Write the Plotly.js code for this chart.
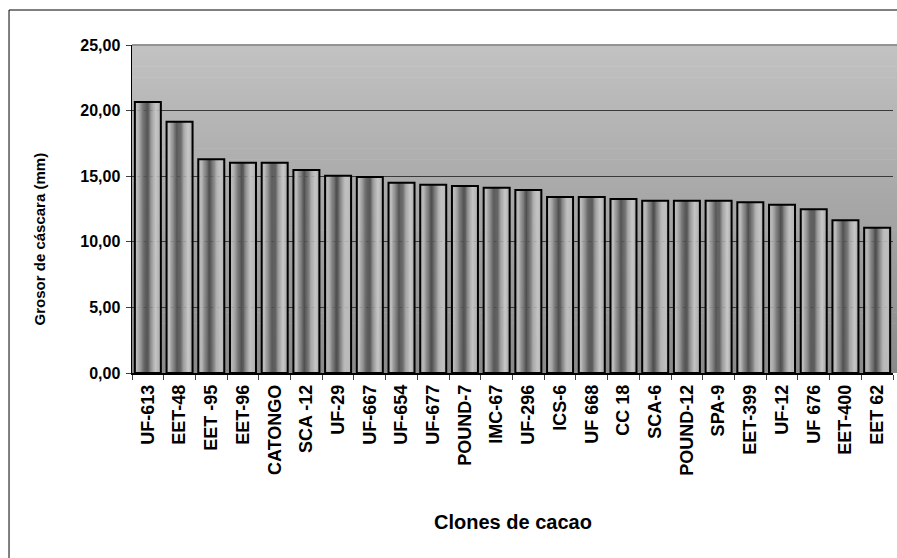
<!DOCTYPE html>
<html>
<head>
<meta charset="utf-8">
<script src="https://cdn.plot.ly/plotly-3.0.1.min.js"></script>
<style>
html,body{margin:0;padding:0;background:#fff;}
#chart{width:897px;height:558px;}
</style>
</head>
<body>
<div id="chart"></div>
<script>
// ---- data ----
const clones = ["UF-613","EET-48","EET -95","EET-96","CATONGO","SCA -12","UF-29","UF-667","UF-654","UF-677","POUND-7","IMC-67","UF-296","ICS-6","UF 668","CC 18","SCA-6","POUND-12","SPA-9","EET-399","UF-12","UF 676","EET-400","EET 62"];
const grosor = [20.66,19.15,16.29,16.03,16.03,15.47,15.04,14.94,14.50,14.35,14.25,14.12,13.95,13.41,13.41,13.26,13.13,13.13,13.13,13.01,12.83,12.48,11.65,11.08];
const yTicks = [0,5,10,15,20,25];
const xTitle = 'Clones de cacao';
const yTitle = 'Grosor de cáscara (mm)';

// ---- style helpers ----
const BAR_W = 0.82;
// horizontal shading profile across a bar (position 0..1 -> grey level)
const profile = [[0,176],[0.1,192],[0.25,140],[0.42,78],[0.52,95],[0.68,170],[0.82,200],[0.92,188],[1,165]];
function greyAt(t){
  for(let i=1;i<profile.length;i++){
    if(t<=profile[i][0]){
      const a=profile[i-1], b=profile[i];
      const f=(t-a[0])/(b[0]-a[0]);
      return Math.round(a[1]+(b[1]-a[1])*f);
    }
  }
  return profile[profile.length-1][1];
}
const N = 22;
const traces = [];
for(let k=0;k<N;k++){
  const g = greyAt((k+0.5)/N);
  traces.push({
    type:'bar', x:clones, y:grosor,
    width:BAR_W/N*1.15, offset:-BAR_W/2 + k*BAR_W/N,
    marker:{color:`rgb(${g},${g},${g})`, line:{width:0}},
    hoverinfo:'skip', showlegend:false
  });
}
traces.push({
  type:'bar', x:clones, y:grosor, width:BAR_W, offset:-BAR_W/2,
  marker:{color:'rgba(0,0,0,0)', line:{color:'#000', width:2}},
  name:yTitle, showlegend:false,
  hovertemplate:'%{x}: %{y:.2f}<extra></extra>'
});

// background vertical gradient for plot area
const shapes = [];
const S = 60;
for(let i=0;i<S;i++){
  const t=(i+0.5)/S; // 0 bottom -> 1 top
  const g=Math.round(138+(194-138)*t);
  shapes.push({type:'rect', xref:'paper', yref:'paper', x0:0, x1:1.01, y0:i/S, y1:(i+1)/S+0.002,
    fillcolor:`rgb(${g},${g},${g})`, line:{width:0}, layer:'below'});
}
// plot area top border
shapes.push({type:'line', xref:'paper', yref:'paper', x0:0, x1:1.01, y0:1, y1:1, line:{color:'#808080', width:1.5}});
// chart frame
shapes.push({type:'rect', xref:'paper', yref:'paper', x0:-0.1616, x1:1.2, y0:-1, y1:1.1067, line:{color:'#000', width:1}, fillcolor:'rgba(0,0,0,0)'});

const FONT = 'Liberation Sans, Arial, sans-serif';
const layout = {
  width:897, height:558,
  margin:{l:132, r:4, t:45, b:185},
  paper_bgcolor:'#fff', plot_bgcolor:'rgba(0,0,0,0)',
  separators:',.',
  barmode:'overlay',
  showlegend:false,
  font:{family:FONT, color:'#000'},
  xaxis:{
    type:'category', tickson:'boundaries', ticks:'outside', ticklen:5, tickcolor:'#404040',
    showline:true, linecolor:'#000', linewidth:1.5, showgrid:false,
    tickangle:-90, tickfont:{family:FONT, size:18, weight:'bold'}, ticklabelstandoff:3,
    automargin:false
  },
  yaxis:{
    range:[0,25], tickvals:yTicks, tickformat:'.2f', ticks:'outside', ticklen:5, tickcolor:'#404040',
    showline:true, linecolor:'#000', linewidth:1.5,
    showgrid:true, gridcolor:'#3a3a3a', gridwidth:1, zeroline:false,
    tickfont:{family:FONT, size:16, weight:'bold'}, ticklabelstandoff:2,
    automargin:false
  },
  annotations:[
    {text:xTitle, xref:'paper', yref:'paper', x:0.5, y:-0.454, showarrow:false,
     xanchor:'center', yanchor:'middle', font:{family:FONT, size:20, weight:'bold'}},
    {text:yTitle, xref:'paper', yref:'paper', x:-0.121, y:0.41, showarrow:false, textangle:-90,
     xanchor:'center', yanchor:'middle', font:{family:FONT, size:15, weight:'bold'}}
  ],
  shapes:shapes
};
Plotly.newPlot('chart', traces, layout, {displayModeBar:false, staticPlot:true});
</script>
</body>
</html>
